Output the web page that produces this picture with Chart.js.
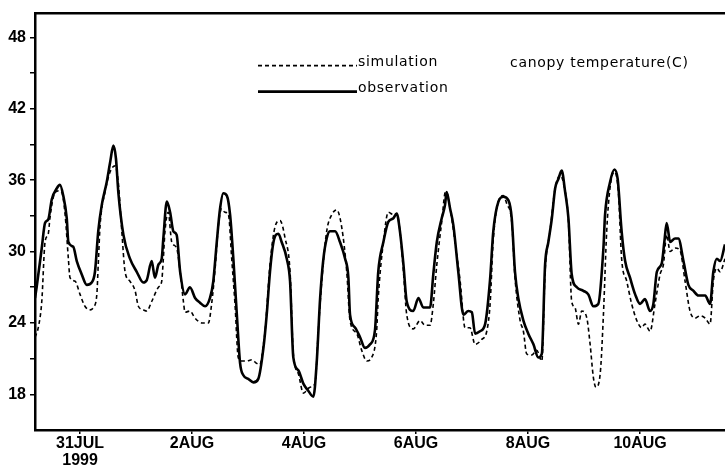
<!DOCTYPE html>
<html><head><meta charset="utf-8">
<script src="https://cdn.jsdelivr.net/npm/chart.js@4/dist/chart.umd.min.js"></script>
<style>html,body{margin:0;padding:0;background:#fff;}canvas{display:block}</style>
</head><body>
<canvas id="c" width="725" height="466"></canvas>
<script>
// hours since 30 JUL 1999 00:00
const obsHours = [4.7,5.4,7.6,9.0,10.4,11.9,14.0,15.4,16.8,18.3,19.0,21.1,22.6,24.7,26.9,29.0,30.4,31.8,33.3,35.4,36.9,38.3,39.4,40.4,42.6,45.4,48.3,51.1,52.6,54.7,56.1,57.6,59.0,59.7,61.2,62.6,64.0,65.4,66.9,69.0,71.1,73.3,75.4,77.6,79.7,81.1,82.6,84.0,85.4,86.9,88.3,89.7,91.2,92.6,94.0,96.1,98.3,100.4,102.6,104.0,105.4,106.9,109.0,110.4,112.6,114.0,115.4,117.6,119.7,121.8,124.0,125.4,126.9,128.3,129.7,131.1,133.3,135.4,137.6,139.0,139.7,141.9,144.0,146.1,148.3,150.4,151.8,154.0,156.1,158.3,159.7,161.1,162.6,164.0,166.8,169.0,171.1,174.0,175.4,176.9,179.0,180.4,181.1,182.6,184.0,186.1,188.3,190.4,191.9,193.3,195.4,197.6,199.7,201.1,203.3,205.4,207.6,209.0,210.4,211.8,214.0,216.1,218.3,220.4,221.9,223.3,224.7,226.2,227.6,229.0,230.4,231.9,233.3,234.7,236.9,239.7,241.8,244.0,246.1,248.3,249.0,251.1,253.0,254.4,256.1,257.6,259.7,261.9,264.0,266.1,268.3,269.7,271.2,273.3,274.4,275.4,276.9,279.0,280.4,282.6,284.7,286.9,289.0,291.9,294.0,295.4,296.9,298.3,300.4];
const obsTemp = [26.1,27.0,30.3,32.4,32.7,34.4,35.3,35.6,34.7,32.8,30.8,30.4,29.2,28.1,27.2,27.4,28.3,31.7,33.9,35.8,37.5,38.9,37.8,35.0,31.4,29.4,28.3,27.4,27.6,29.2,27.8,28.9,29.4,31.1,34.2,33.3,31.7,31.4,28.3,26.4,27.0,26.1,25.7,25.4,26.1,27.5,30.8,33.6,34.9,34.7,33.1,29.4,24.7,20.6,19.6,19.3,19.0,19.3,21.9,24.7,28.3,30.8,31.5,30.8,29.4,27.5,21.1,20.0,18.9,18.3,17.8,20.6,26.1,29.4,31.1,31.7,31.7,30.8,29.4,27.8,24.7,23.6,22.8,21.9,22.2,23.4,28.3,30.8,32.5,32.8,33.2,31.7,28.9,25.8,25.0,26.1,25.3,25.3,28.1,30.8,32.8,33.9,35.0,33.6,32.2,28.3,24.7,25.0,24.9,23.1,23.3,23.9,27.6,31.7,34.2,34.6,34.3,32.8,28.3,26.1,24.2,23.1,22.2,21.1,21.4,28.9,30.8,32.8,35.3,36.1,36.8,35.0,32.8,28.1,27.0,26.7,26.4,25.4,25.6,30.3,33.1,35.8,36.9,36.1,31.7,29.2,27.8,26.4,25.6,26.0,25.0,25.6,28.3,29.0,30.8,32.4,30.8,31.1,31.1,29.2,27.2,26.7,26.3,26.3,25.6,28.3,29.4,29.2,30.6];
const simHours = [4.7,6.1,7.6,9.0,10.4,11.1,12.6,14.7,16.1,17.6,19.0,19.7,21.9,24.0,26.1,28.3,29.7,31.2,31.8,32.6,34.7,36.9,39.0,40.4,41.9,43.3,45.4,47.6,49.0,51.1,52.6,54.7,57.6,59.0,59.7,60.4,61.8,63.3,65.4,66.9,68.3,69.0,71.1,73.3,76.2,79.0,80.4,81.9,83.3,84.7,86.1,87.6,89.0,90.4,91.8,93.3,95.4,97.6,99.7,101.1,102.6,103.3,105.4,107.6,109.7,111.9,114.0,115.4,117.6,119.7,122.6,124.7,126.1,127.6,129.7,131.9,134.0,136.1,138.3,139.7,142.6,144.7,146.9,149.0,151.1,151.8,154.0,156.1,158.3,159.7,161.1,162.6,164.0,166.8,169.7,171.9,174.0,175.4,176.9,179.0,180.7,182.6,184.7,186.9,189.0,191.1,193.3,196.1,198.3,199.7,201.1,203.3,205.4,206.9,209.0,210.4,212.6,214.0,215.4,217.6,219.7,221.9,223.3,225.4,227.6,229.7,231.1,233.3,234.7,236.1,237.6,239.0,241.2,242.6,244.0,245.1,246.9,248.3,249.7,251.1,253.0,254.7,256.1,258.3,260.4,262.6,264.7,266.1,268.3,270.4,272.6,274.0,275.4,276.9,279.0,281.1,283.3,285.4,287.6,289.7,291.9,294.0,295.4,296.9,298.3,300.4];
const simTemp = [22.8,23.6,25.8,30.8,31.5,32.8,34.6,35.1,35.0,33.1,29.4,27.8,27.5,26.4,25.4,25.1,25.3,26.4,28.9,32.2,35.0,36.7,37.2,35.8,31.7,28.3,27.5,26.7,25.4,25.1,25.0,25.8,27.0,27.5,29.4,31.7,33.3,30.8,30.3,28.3,25.8,24.9,25.0,24.4,24.0,24.0,25.6,28.6,32.2,33.6,33.3,33.1,29.4,25.6,21.1,20.8,20.8,20.9,20.6,20.5,22.2,23.3,28.9,32.1,32.6,31.1,28.3,21.4,19.7,18.1,18.6,18.9,23.3,27.5,31.7,33.1,33.5,32.1,28.3,24.2,23.1,21.7,20.8,21.1,23.3,26.1,30.8,33.3,33.1,33.2,31.7,28.3,24.7,23.5,24.2,23.8,23.8,25.6,28.9,32.5,35.1,33.6,30.8,27.5,23.6,23.6,22.2,22.6,23.3,25.5,31.0,34.2,34.7,34.0,32.5,27.8,24.2,23.3,21.4,21.3,21.7,20.8,28.3,31.7,35.3,36.4,35.8,32.5,25.8,25.3,23.9,25.0,24.4,22.2,19.4,18.6,19.7,24.7,31.7,35.3,36.7,35.0,29.4,27.5,25.6,24.2,23.6,23.9,23.3,25.6,28.1,28.9,31.4,30.0,30.3,30.1,27.5,25.0,24.4,24.6,24.4,23.9,27.5,28.6,28.3,29.4];
const dayTicks = [24,72,120,168,216,264];
const dayLabels = [['31JUL','1999'],['2AUG'],['4AUG'],['6AUG'],['8AUG'],['10AUG']];
const yTicks = [18,21,24,27,30,33,36,39,42,45,48];
const yLabelEvery = 6;
const seriesNames = ['simulation','observation'];
const chartTitle = 'canopy temperature(C)';

const toXY = (hs, vs) => hs.map((h, i) => ({x: h, y: vs[i]}));

const legendPlugin = {
  id: 'plotLegend',
  afterDraw(chart) {
    const {ctx, chartArea} = chart;
    ctx.save();
    ctx.font = '14px "DejaVu Sans"';
    ctx.letterSpacing = '0.7px';
    ctx.fillStyle = '#000';
    ctx.textBaseline = 'alphabetic';
    const lx0 = chartArea.left + 223, lx1 = chartArea.left + 322;
    chart.data.datasets.forEach((ds, i) => {
      const by = chartArea.top + 52 + i * 26;
      ctx.strokeStyle = '#000';
      ctx.lineWidth = ds.borderWidth;
      ctx.setLineDash(ds.borderDash || []);
      ctx.beginPath(); ctx.moveTo(lx0, by); ctx.lineTo(lx1, by); ctx.stroke();
      ctx.setLineDash([]);
      ctx.fillText(ds.label, lx1 + 1, by);
    });
    ctx.fillText(chartTitle, chartArea.left + 475, chartArea.top + 53);
    ctx.restore();
  }
};

new Chart(document.getElementById('c'), {
  type: 'line',
  data: {
    datasets: [
      {label: seriesNames[0], data: toXY(simHours, simTemp), borderColor: '#000', borderWidth: 1.6, borderDash: [4, 3], pointRadius: 0, cubicInterpolationMode: 'monotone', fill: false},
      {label: seriesNames[1], data: toXY(obsHours, obsTemp), borderColor: '#000', borderWidth: 2.6, pointRadius: 0, cubicInterpolationMode: 'monotone', fill: false}
    ]
  },
  options: {
    responsive: false,
    animation: false,
    devicePixelRatio: 1,
    layout: {padding: {top: 10, right: 0, left: 0, bottom: 0}},
    plugins: {legend: {display: false}, tooltip: {enabled: false}},
    scales: {
      x: {
        type: 'linear', position: 'bottom', min: 4.7, max: 300.4,
        afterBuildTicks: s => { s.ticks = dayTicks.map(v => ({value: v})); },
        afterFit: s => { s.height = 36; },
        grid: {drawOnChartArea: false, drawTicks: true, tickLength: 4, color: '#000', lineWidth: 1.5},
        border: {display: true, color: '#000', width: 2.5},
        ticks: {
          autoSkip: false, maxRotation: 0, padding: 1, color: '#000',
          font: {family: '"Liberation Sans Narrow", "Arial Narrow", sans-serif', size: 16, weight: 'bold', lineHeight: 1.05},
          callback: (v) => { const i = dayTicks.indexOf(v); return i >= 0 ? dayLabels[i] : ''; }
        }
      },
      xTop: {
        type: 'linear', position: 'top', display: true,
        afterFit: s => { s.height = 0; },
        grid: {drawOnChartArea: false, drawTicks: false},
        border: {display: true, color: '#000', width: 2.5},
        ticks: {display: false}
      },
      y: {
        type: 'linear', min: 15, max: 50,
        afterBuildTicks: s => { s.ticks = yTicks.map(v => ({value: v})); },
        afterFit: s => { s.width = 35; },
        grid: {drawOnChartArea: false, drawTicks: true, tickLength: 5, color: '#000', lineWidth: 1.5},
        border: {display: true, color: '#000', width: 2.5},
        ticks: {
          padding: 4, color: '#000',
          font: {family: '"Liberation Sans Narrow", "Arial Narrow", sans-serif', size: 16, weight: 'bold'},
          callback: v => (v % yLabelEvery === 0 ? String(v) : '')
        }
      }
    }
  },
  plugins: [legendPlugin]
});
</script>
</body></html>
